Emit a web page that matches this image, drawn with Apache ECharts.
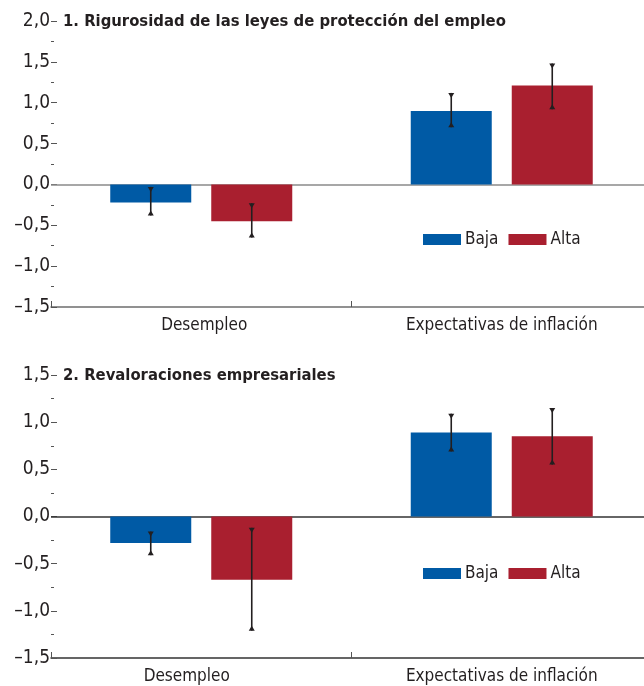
<!DOCTYPE html>
<html>
<head>
<meta charset="utf-8">
<script src="https://cdn.jsdelivr.net/npm/echarts@6/dist/echarts.min.js"></script>
<style>
  html, body { margin: 0; padding: 0; background: #fff; }
  #chart { width: 644px; height: 686px; }
</style>
</head>
<body>
<div id="chart"></div>
<script>
// Categories and series values (two panels)
const categories = ['Desempleo', 'Expectativas de inflación'];
const seriesNames = ['Baja', 'Alta'];
const panelTitles = [
  '1. Rigurosidad de las leyes de protección del empleo',
  '2. Revaloraciones empresariales'
];

// Panel 1
const p1Baja = [-0.22, 0.90];
const p1BajaLow = [-0.38, 0.70];
const p1BajaHigh = [-0.03, 1.12];
const p1Alta = [-0.45, 1.21];
const p1AltaLow = [-0.65, 0.92];
const p1AltaHigh = [-0.23, 1.48];

// Panel 2
const p2Baja = [-0.28, 0.89];
const p2BajaLow = [-0.41, 0.69];
const p2BajaHigh = [-0.16, 1.09];
const p2Alta = [-0.67, 0.85];
const p2AltaLow = [-1.21, 0.55];
const p2AltaHigh = [-0.12, 1.15];

// Axis ranges
const yRanges = [{ min: -1.5, max: 2.0 }, { min: -1.5, max: 1.5 }];

const FONT = '"Liberation Sans Narrow", "DejaVu Sans Condensed", sans-serif';
const TEXT = '#231f20';
const BLUE = '#005aa5';
const RED = '#a91f2f';
const BAR_W = 81;
const BAR_GAP = 20;

const grids = [
  { left: 51, top: 21, width: 601, height: 286, outerBoundsMode: 'none', containLabel: false },
  { left: 51, top: 375, width: 601, height: 283, outerBoundsMode: 'none', containLabel: false }
];

// small horizontal nudges of the first category label in each panel
const firstLabelPadding = [[0, 0, 0, 6], [0, 29, 0, 0]];

function fmt(v) {
  return v.toFixed(1).replace('.', ',').replace('-', '\u2013');
}

// error bar drawing: vertical whisker with small triangular caps
function errorBarSeries(gridIdx, lows, highs, offset) {
  return {
    type: 'custom',
    xAxisIndex: gridIdx,
    yAxisIndex: gridIdx,
    z: 10,
    silent: true,
    data: lows.map((lo, i) => [i, lo, highs[i]]),
    renderItem: function (params, api) {
      const i = api.value(0);
      const lo = api.coord([i, api.value(1)]);
      const hi = api.coord([i, api.value(2)]);
      const x = lo[0] + offset;
      const c = '#231f20';
      return {
        type: 'group',
        children: [
          { type: 'line', shape: { x1: x, y1: hi[1], x2: x, y2: lo[1] },
            style: { stroke: c, lineWidth: 1.6 } },
          { type: 'polygon', shape: { points: [[x - 3, hi[1]], [x + 3, hi[1]], [x, hi[1] + 5]] },
            style: { fill: c } },
          { type: 'polygon', shape: { points: [[x - 3, lo[1]], [x + 3, lo[1]], [x, lo[1] - 5]] },
            style: { fill: c } }
        ]
      };
    }
  };
}

function barSeries(gridIdx, name, data, color, withZero, zeroColor) {
  const s = {
    type: 'bar',
    name: name,
    xAxisIndex: gridIdx,
    yAxisIndex: gridIdx,
    data: data,
    barWidth: BAR_W,
    barGap: (BAR_GAP / BAR_W * 100).toFixed(1) + '%',
    itemStyle: { color: color },
    silent: true
  };
  if (withZero) {
    s.markLine = {
      silent: true,
      symbol: 'none',
      label: { show: false },
      lineStyle: { color: zeroColor, width: 1.5, type: 'solid' },
      data: [{ yAxis: 0 }],
      z: 1
    };
  }
  return s;
}

const xAxes = grids.map((g, i) => ({
  type: 'category',
  gridIndex: i,
  data: categories.map((c, k) => k === 0
    ? { value: c, textStyle: { padding: firstLabelPadding[i] } }
    : c),
  position: 'bottom',
  axisLine: { show: true, onZero: false, lineStyle: { color: i === 0 ? '#6d6d6d' : '#333', width: 1.5 } },
  axisTick: { show: true, inside: true, length: 6, alignWithLabel: false, lineStyle: { color: '#555' } },
  axisLabel: { color: TEXT, fontFamily: FONT, fontSize: 17, margin: 10 },
  splitLine: { show: false }
}));

const yAxes = grids.map((g, i) => ({
  type: 'value',
  gridIndex: i,
  min: yRanges[i].min,
  max: yRanges[i].max,
  interval: 0.5,
  axisLine: { show: false },
  axisTick: { show: true, inside: true, length: 6, lineStyle: { color: '#555' } },
  minorTick: { show: true, splitNumber: 2, length: 3, lineStyle: { color: '#555' } },
  splitLine: { show: false },
  axisLabel: { color: TEXT, fontFamily: FONT, fontSize: 19, margin: 1, formatter: fmt }
}));

const series = [
  barSeries(0, seriesNames[0], p1Baja, BLUE, true, '#8a8a8a'),
  barSeries(0, seriesNames[1], p1Alta, RED, false),
  errorBarSeries(0, p1BajaLow, p1BajaHigh, -(BAR_W + BAR_GAP) / 2),
  errorBarSeries(0, p1AltaLow, p1AltaHigh, (BAR_W + BAR_GAP) / 2),
  barSeries(1, seriesNames[0], p2Baja, BLUE, true, '#333'),
  barSeries(1, seriesNames[1], p2Alta, RED, false),
  errorBarSeries(1, p2BajaLow, p2BajaHigh, -(BAR_W + BAR_GAP) / 2),
  errorBarSeries(1, p2AltaLow, p2AltaHigh, (BAR_W + BAR_GAP) / 2)
];

const legendTops = [231, 565];
const legends = legendTops.map(t => ({
  data: seriesNames,
  left: 423,
  top: t,
  padding: 0,
  icon: 'rect',
  itemWidth: 38,
  itemHeight: 11,
  itemGap: 10,
  selectedMode: false,
  textStyle: { color: TEXT, fontFamily: FONT, fontSize: 17, padding: [0, 0, 0, -1] }
}));

const titles = panelTitles.map((t, i) => ({
  text: t,
  left: 63,
  top: grids[i].top - 10,
  padding: 0,
  textStyle: { color: TEXT, fontFamily: FONT, fontSize: 16.5, fontWeight: 'bold', lineHeight: 21 }
}));

const chart = echarts.init(document.getElementById('chart'), null, { renderer: 'canvas' });
chart.setOption({
  animation: false,
  backgroundColor: '#fff',
  title: titles,
  legend: legends,
  grid: grids,
  xAxis: xAxes,
  yAxis: yAxes,
  series: series
});
</script>
</body>
</html>
